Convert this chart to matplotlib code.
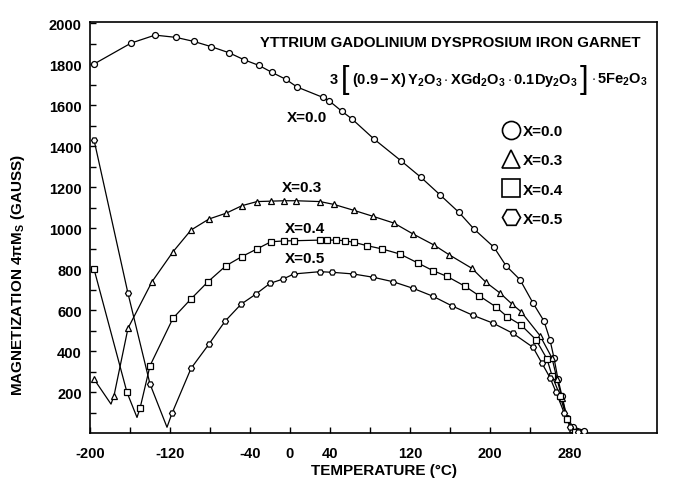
import numpy as np
import matplotlib
matplotlib.use("Agg")
import matplotlib.pyplot as plt
from matplotlib.lines import Line2D
from matplotlib.offsetbox import TextArea, HPacker, AnnotationBbox

# X=0.0 (circles)
t_x00 = [-196, -159, -135, -114, -96, -79, -61, -46, -31, -18, -4, 7, 33, 39, 52, 62, 84, 111, 131,
         150, 169, 184, 204, 216, 230, 243, 254, 260, 264, 268, 272, 277, 283, 294]
m_x00 = [1800, 1902, 1941, 1930, 1910, 1885, 1855, 1821, 1793, 1759, 1725, 1688, 1637, 1621, 1569, 1532, 1434, 1328, 1247,
         1162, 1076, 995, 906, 816, 748, 634, 546, 454, 366, 262, 180, 75, 30, 12]

# X=0.3 (triangles)
t_x03 = [-196, -176, -162, -138, -117, -99, -81, -64, -48, -33, -19, -6, 6, 30, 44, 64, 83, 104, 123,
         144, 159, 182, 196, 210, 222, 231, 250, 262, 267, 272, 277, 282]
m_x03 = [263, 182, 511, 738, 884, 990, 1044, 1072, 1109, 1129, 1131, 1133, 1133, 1129, 1115, 1086, 1057, 1024, 971,
         917, 870, 803, 735, 683, 629, 592, 475, 366, 263, 170, 70, 20]
cusp_x03 = (-179, 141)

# X=0.4 (squares)
t_x04 = [-196, -163, -150, -140, -117, -99, -82, -64, -48, -33, -19, -6, 4, 30, 37, 46, 55, 64, 77, 92, 110,
         128, 143, 157, 175, 189, 206, 217, 231, 246, 257, 262, 270, 277, 285]
m_x04 = [800, 198, 120, 328, 560, 654, 738, 816, 861, 898, 933, 937, 938, 941, 941, 941, 938, 930, 914, 898, 873,
         829, 792, 764, 716, 670, 615, 568, 527, 455, 361, 280, 182, 68, 5]
cusp_x04 = (-153, 76)

# X=0.5 (hexagons)
t_x05 = [-196, -162, -140, -118, -99, -81, -65, -49, -34, -20, -7, 4, 30, 42, 63, 83, 103, 123, 143, 162,
         183, 203, 223, 243, 252, 260, 266, 274, 280, 288]
m_x05 = [1430, 681, 239, 96, 315, 434, 545, 628, 678, 730, 751, 776, 787, 784, 776, 760, 738, 706, 667, 620,
         574, 536, 486, 418, 340, 270, 200, 100, 30, 5]
cusp_x05 = (-123, 28)

x_ticks = [-200, -160, -120, -80, -40, 0, 40, 80, 120, 160, 200, 240, 280]
x_labels = ["-200", "", "-120", "", "-40", "0", "40", "", "120", "", "200", "", "280"]
y_ticks = [200, 400, 600, 800, 1000, 1200, 1400, 1600, 1800, 2000]

W, H = 685, 481
plt.rcParams["font.family"] = ["Liberation Sans", "DejaVu Sans"]
plt.rcParams["font.weight"] = "bold"
plt.rcParams["mathtext.fontset"] = "custom"
plt.rcParams["mathtext.rm"] = "Liberation Sans:bold"
plt.rcParams["mathtext.it"] = "Liberation Sans:bold"
plt.rcParams["mathtext.bf"] = "Liberation Sans:bold"
plt.rcParams["mathtext.default"] = "rm"

fig = plt.figure(figsize=(W / 100, H / 100), dpi=100)
ax = fig.add_axes([90 / W, 1 - 434 / H, 567 / W, 411 / H])


def draw(t, m, cusp, marker, ms):
    lt, lm = list(t), list(m)
    if cusp is not None:
        lt.append(cusp[0])
        lm.append(cusp[1])
    order = np.argsort(lt)
    ax.plot(np.array(lt)[order], np.array(lm)[order], color="black", lw=0.9, zorder=2)
    ax.plot(t, m, ls="none", marker=marker, ms=ms, mfc="white", mec="black", mew=0.9, zorder=3)


draw(t_x00, m_x00, None, "o", 4.3)
draw(t_x03, m_x03, cusp_x03, "^", 4.3)
draw(t_x04, m_x04, cusp_x04, "s", 3.8)
draw(t_x05, m_x05, cusp_x05, "H", 4.3)

ax.set_xlim(-200, 367)
ax.set_ylim(0, 2005)
ax.set_xticks(x_ticks)
ax.set_xticklabels(x_labels)
ax.set_yticks(y_ticks)
ax.set_yticks(np.arange(100, 2000, 200), minor=True)
ax.tick_params(which="both", direction="in", length=4, width=1, labelsize=10.5)
ax.tick_params(axis="x", pad=9)
ax.tick_params(axis="y", pad=6)
for s in ax.spines.values():
    s.set_linewidth(1.2)

ax.set_xlabel("TEMPERATURE (°C)", fontsize=11, fontweight="bold")
ax.xaxis.set_label_coords((384 - 90) / 567, -(464 - 434) / 411)
fig.text(18 / W, 1 - 275 / H, r"MAGNETIZATION 4$\pi$M$_S$ (GAUSS)", rotation=90,
         ha="center", va="center", fontsize=11, fontweight="bold")

fig.text(260 / W, 1 - 43 / H, "YTTRIUM GADOLINIUM DYSPROSIUM IRON GARNET",
         ha="left", va="center", fontsize=10.8, fontweight="bold")

# formula with tall brackets
tp = dict(fontsize=10.5, fontweight="bold")
bp = dict(fontsize=22, fontweight="normal")
parts = [TextArea("3", textprops=tp),
         TextArea("[", textprops=bp),
         TextArea(r"$(0.9-X)\,Y_2O_3\cdot XGd_2O_3\cdot 0.1Dy_2O_3$", textprops=tp),
         TextArea("]", textprops=bp),
         TextArea(r"$\cdot\,5Fe_2O_3$", textprops=tp)]
formula = HPacker(children=parts, align="center", pad=0, sep=2)
fig.add_artist(AnnotationBbox(formula, (648 / W, 1 - 80 / H), xycoords="figure fraction",
                              box_alignment=(1, 0.5), frameon=False, pad=0))

ax.text(17, 1541, "X=0.0", ha="center", va="center", fontsize=11, fontweight="bold")
ax.text(12, 1200, "X=0.3", ha="center", va="center", fontsize=11, fontweight="bold")
ax.text(15, 1000, "X=0.4", ha="center", va="center", fontsize=11, fontweight="bold")
ax.text(15, 854, "X=0.5", ha="center", va="center", fontsize=11, fontweight="bold")

handles = [Line2D([], [], ls="none", marker=mk, ms=13, mfc="none", mec="black", mew=1.2)
           for mk in ["o", "^", "s", "H"]]
ax.legend(handles, ["X=0.0", "X=0.3", "X=0.4", "X=0.5"], loc="upper left",
          bbox_to_anchor=((503 - 90) / 567, (434 - 125) / 411), frameon=False,
          handlelength=1.0, handletextpad=0.3, labelspacing=1.0, borderpad=0,
          borderaxespad=0, prop={"size": 11, "weight": "bold"})

fig.savefig("out.png", dpi=100)
